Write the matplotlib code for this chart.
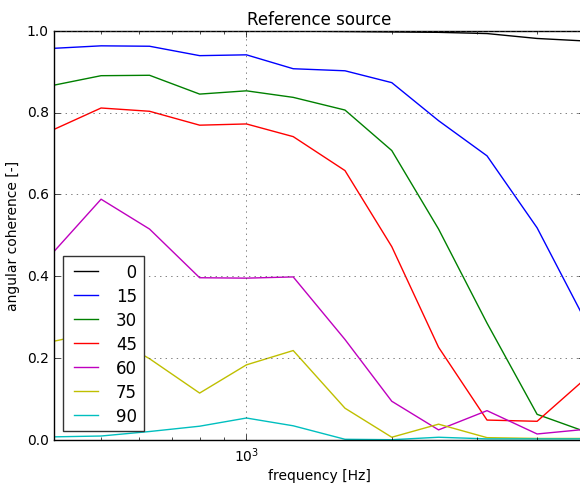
import matplotlib
matplotlib.use("Agg")
import matplotlib.pyplot as plt
from matplotlib.ticker import NullFormatter

plt.style.use('classic')
plt.rcParams['font.size'] = 10
plt.rcParams['mathtext.fontset'] = 'dejavusans'
plt.rcParams['figure.facecolor'] = 'white'
plt.rcParams['savefig.facecolor'] = 'white'

freqs = [400, 500, 630, 800, 1000, 1250, 1600, 2000, 2500, 3150, 4000, 5000]
angles = [0, 15, 30, 45, 60, 75, 90]
colors = ['k', 'b', 'g', 'r', 'm', 'y', 'c']

coh_0 = [0.999, 0.999, 0.999, 0.999, 0.999, 0.999, 0.998, 0.997, 0.996, 0.993, 0.981, 0.975]
coh_15 = [0.957, 0.963, 0.962, 0.939, 0.941, 0.907, 0.902, 0.873, 0.780, 0.694, 0.518, 0.298]
coh_30 = [0.867, 0.890, 0.891, 0.845, 0.853, 0.837, 0.806, 0.707, 0.515, 0.285, 0.062, 0.021]
coh_45 = [0.759, 0.811, 0.803, 0.769, 0.772, 0.741, 0.658, 0.472, 0.226, 0.048, 0.045, 0.146]
coh_60 = [0.461, 0.588, 0.515, 0.396, 0.395, 0.398, 0.245, 0.094, 0.024, 0.071, 0.014, 0.025]
coh_75 = [0.241, 0.265, 0.198, 0.114, 0.183, 0.218, 0.077, 0.006, 0.038, 0.005, 0.003, 0.003]
coh_90 = [0.007, 0.009, 0.020, 0.033, 0.053, 0.034, 0.001, 0.000, 0.006, 0.002, 0.002, 0.002]

series = [coh_0, coh_15, coh_30, coh_45, coh_60, coh_75, coh_90]

fig = plt.figure(figsize=(5.8, 4.85), dpi=100)
ax = fig.add_axes([54.3 / 580, 1 - 440.7 / 485, (583.9 - 54.3) / 580, 409 / 485])

for ang, vals, col in zip(angles, series, colors):
    ax.plot(freqs, vals, color=col, label='{:\u2007>2d}'.format(ang))

ax.set_xscale('log')
ax.set_xlim(400, 5000)
ax.set_ylim(0.0, 1.0)
ax.xaxis.set_minor_formatter(NullFormatter())
ax.grid(True, color='0.3')
ax.set_title('Reference source')
ax.set_xlabel('frequency [Hz]', labelpad=3)
ax.set_ylabel('angular coherence [-]')
leg = ax.legend(loc='lower left', labelspacing=0.36)
leg.get_frame().set_edgecolor('0.2')

fig.savefig('out.png', dpi=100)
